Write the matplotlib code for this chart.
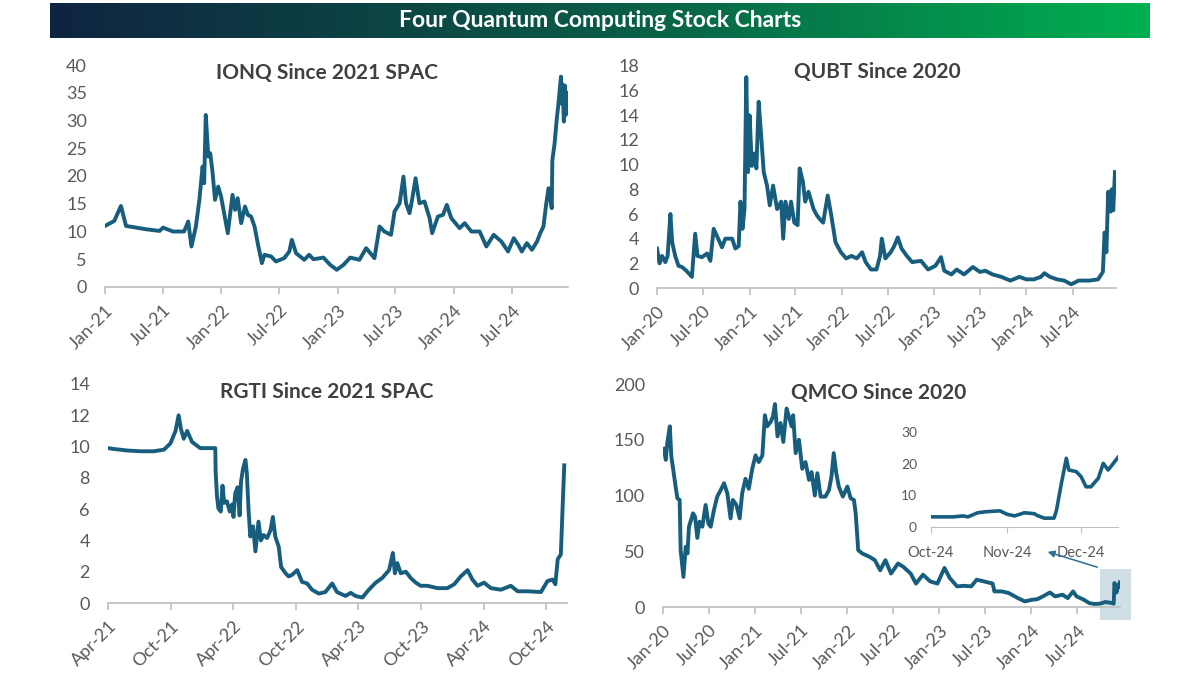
import numpy as np
import pandas as pd
import matplotlib
matplotlib.use("Agg")
from matplotlib import pyplot as plt
import matplotlib.dates as mdates
from matplotlib.colors import LinearSegmentedColormap
from matplotlib.patches import Rectangle, FancyArrowPatch

plt.rcParams['font.family'] = ['Lato', 'DejaVu Sans']

# ---- data ----
ionq_dates = ["2021-01-01", "2021-01-30", "2021-02-20", "2021-03-08", "2021-04-09", "2021-05-10",
              "2021-06-21", "2021-07-02", "2021-08-02", "2021-09-06", "2021-09-19", "2021-09-29",
              "2021-10-13", "2021-10-24", "2021-11-03", "2021-11-08", "2021-11-13", "2021-11-21",
              "2021-11-27", "2021-12-04", "2021-12-12", "2021-12-22", "2021-12-31", "2022-01-21",
              "2022-02-05", "2022-02-13", "2022-02-21", "2022-03-04", "2022-03-16", "2022-03-25",
              "2022-04-04", "2022-04-15", "2022-04-27", "2022-05-08", "2022-05-16", "2022-06-06",
              "2022-06-21", "2022-07-17", "2022-08-02", "2022-08-10", "2022-08-23", "2022-09-18",
              "2022-10-03", "2022-10-17", "2022-11-17", "2022-12-08", "2022-12-29", "2023-01-19",
              "2023-02-09", "2023-03-10", "2023-03-31", "2023-04-26", "2023-05-12", "2023-05-27",
              "2023-06-17", "2023-06-28", "2023-07-14", "2023-07-26", "2023-08-03", "2023-08-14",
              "2023-08-22", "2023-09-02", "2023-09-14", "2023-09-30", "2023-10-16", "2023-10-24",
              "2023-11-11", "2023-11-27", "2023-12-09", "2023-12-23", "2024-01-18", "2024-02-03",
              "2024-02-24", "2024-03-21", "2024-04-11", "2024-05-04", "2024-05-28", "2024-06-18",
              "2024-07-06", "2024-07-20", "2024-07-31", "2024-08-16", "2024-09-01", "2024-09-17",
              "2024-09-27", "2024-10-07", "2024-10-16", "2024-10-23", "2024-11-02", "2024-11-04",
              "2024-11-11", "2024-11-18", "2024-11-23", "2024-11-26", "2024-12-01", "2024-12-04",
              "2024-12-06", "2024-12-10", "2024-12-13", "2024-12-16", "2024-12-18"]
ionq_price = [11.0, 11.9, 14.6, 11.0, 10.7, 10.4, 10.1, 10.7, 10.0, 10.0, 11.8, 7.3,
              10.9, 15.7, 21.7, 18.7, 31.0, 23.5, 24.1, 20.8, 15.7, 18.1, 16.3, 9.7,
              16.6, 13.9, 16.0, 11.5, 14.5, 13.0, 12.7, 10.9, 7.3, 4.3, 5.8, 5.5,
              4.6, 5.2, 6.4, 8.5, 6.1, 4.9, 5.8, 5.0, 5.3, 4.0, 3.1, 4.0,
              5.3, 4.9, 7.0, 5.2, 10.9, 10.0, 9.4, 13.6, 15.1, 19.9, 15.1, 13.3,
              15.7, 19.6, 15.1, 15.4, 12.4, 9.7, 12.7, 13.0, 14.8, 12.4, 10.6, 11.5,
              10.0, 10.0, 7.3, 9.4, 8.2, 6.4, 8.8, 7.6, 6.4, 7.9, 6.7, 8.2,
              9.7, 10.9, 15.1, 17.8, 14.2, 22.9, 25.9, 30.4, 33.0, 34.9, 37.9, 33.0,
              36.5, 29.8, 36.3, 31.0, 35.0]

qubt_dates = ["2020-01-01", "2020-01-11", "2020-01-21", "2020-02-03", "2020-02-12", "2020-02-23",
              "2020-03-01", "2020-03-13", "2020-03-26", "2020-04-09", "2020-04-26", "2020-05-18",
              "2020-05-31", "2020-06-09", "2020-06-27", "2020-07-17", "2020-07-30", "2020-08-12",
              "2020-09-01", "2020-09-14", "2020-09-27", "2020-10-24", "2020-11-06", "2020-11-19",
              "2020-11-26", "2020-12-04", "2020-12-12", "2020-12-19", "2020-12-26", "2021-01-01",
              "2021-01-10", "2021-01-20", "2021-01-28", "2021-02-06", "2021-02-15", "2021-02-26",
              "2021-03-11", "2021-03-22", "2021-04-04", "2021-04-20", "2021-05-06", "2021-05-14",
              "2021-05-23", "2021-06-05", "2021-06-14", "2021-06-27", "2021-07-10", "2021-07-18",
              "2021-07-31", "2021-08-09", "2021-08-22", "2021-09-11", "2021-09-24", "2021-10-05",
              "2021-10-19", "2021-11-06", "2021-11-20", "2021-12-07", "2021-12-28", "2022-01-18",
              "2022-02-08", "2022-03-01", "2022-03-22", "2022-04-05", "2022-04-26", "2022-05-18",
              "2022-06-01", "2022-06-08", "2022-06-22", "2022-07-13", "2022-07-27", "2022-08-10",
              "2022-08-25", "2022-09-15", "2022-10-06", "2022-11-10", "2022-12-08", "2023-01-06",
              "2023-01-28", "2023-02-10", "2023-03-10", "2023-03-31", "2023-04-29", "2023-06-03",
              "2023-07-01", "2023-07-22", "2023-08-20", "2023-09-24", "2023-10-29", "2023-12-04",
              "2024-01-01", "2024-01-30", "2024-02-27", "2024-03-12", "2024-04-03", "2024-05-01",
              "2024-05-29", "2024-06-26", "2024-07-25", "2024-09-05", "2024-10-10", "2024-10-29",
              "2024-11-05", "2024-11-12", "2024-11-19", "2024-11-29", "2024-12-03", "2024-12-09",
              "2024-12-16"]
qubt_price = [3.2, 2.0, 2.6, 2.1, 2.6, 6.0, 3.7, 2.6, 1.8, 1.7, 1.4, 0.9,
              4.4, 2.6, 2.5, 2.8, 2.2, 4.8, 3.9, 3.3, 4.0, 4.0, 3.2, 3.4,
              7.0, 4.8, 6.4, 17.1, 9.4, 14.0, 9.9, 10.9, 9.7, 15.1, 12.6, 9.4,
              8.3, 6.7, 8.3, 6.4, 7.0, 4.0, 7.0, 5.6, 7.0, 5.3, 5.1, 9.7,
              8.6, 7.0, 7.8, 6.4, 5.9, 5.6, 5.3, 7.5, 5.9, 3.7, 2.9, 2.4,
              2.6, 2.4, 2.9, 2.1, 1.5, 1.5, 2.6, 4.0, 2.4, 2.9, 3.4, 4.1,
              3.2, 2.6, 2.1, 2.2, 1.5, 1.8, 2.5, 1.4, 1.1, 1.5, 1.1, 1.7,
              1.3, 1.4, 1.1, 0.9, 0.6, 0.9, 0.7, 0.7, 0.9, 1.2, 0.9, 0.7,
              0.6, 0.3, 0.6, 0.6, 0.7, 1.3, 4.5, 2.9, 7.8, 6.2, 8.0, 6.3,
              9.4]

rgti_dates = ["2021-04-01", "2021-04-17", "2021-05-26", "2021-07-04", "2021-08-12", "2021-09-11",
              "2021-09-30", "2021-10-15", "2021-10-24", "2021-10-31", "2021-11-08", "2021-11-18",
              "2021-12-02", "2021-12-26", "2022-02-08", "2022-02-09", "2022-02-13", "2022-02-17",
              "2022-02-24", "2022-03-01", "2022-03-06", "2022-03-14", "2022-03-22", "2022-03-29",
              "2022-04-02", "2022-04-07", "2022-04-14", "2022-04-20", "2022-04-24", "2022-04-30",
              "2022-05-07", "2022-05-11", "2022-05-16", "2022-05-21", "2022-05-29", "2022-06-05",
              "2022-06-14", "2022-06-21", "2022-06-29", "2022-07-09", "2022-07-19", "2022-07-26",
              "2022-08-02", "2022-08-12", "2022-08-19", "2022-09-01", "2022-09-10", "2022-09-20",
              "2022-10-05", "2022-10-19", "2022-11-03", "2022-11-17", "2022-12-07", "2022-12-26",
              "2023-01-15", "2023-01-29", "2023-02-23", "2023-03-10", "2023-03-24", "2023-04-13",
              "2023-05-02", "2023-05-22", "2023-06-10", "2023-06-30", "2023-07-11", "2023-07-17",
              "2023-07-24", "2023-08-03", "2023-08-18", "2023-09-01", "2023-09-16", "2023-09-30",
              "2023-10-20", "2023-11-18", "2023-12-17", "2024-01-06", "2024-01-25", "2024-02-14",
              "2024-02-28", "2024-03-14", "2024-04-02", "2024-04-22", "2024-05-21", "2024-06-19",
              "2024-07-09", "2024-08-07", "2024-09-15", "2024-10-04", "2024-10-19", "2024-10-27",
              "2024-11-03", "2024-11-12", "2024-11-17", "2024-11-22"]
rgti_price = [9.9, 9.85, 9.75, 9.7, 9.7, 9.8, 10.2, 11.0, 12.0, 11.1, 10.5, 11.0,
              10.3, 9.9, 9.9, 8.4, 6.8, 6.05, 5.85, 7.5, 6.4, 6.5, 5.85, 6.3,
              5.5, 7.0, 7.4, 5.6, 7.75, 8.6, 9.15, 8.3, 5.95, 4.25, 4.9, 3.3,
              5.2, 4.0, 4.35, 4.15, 4.65, 5.5, 4.25, 3.6, 2.3, 1.9, 1.7, 1.8,
              2.1, 1.35, 1.25, 0.85, 0.6, 0.7, 1.25, 0.7, 0.45, 0.65, 0.45, 0.35,
              0.85, 1.3, 1.6, 2.1, 3.2, 1.9, 2.55, 1.9, 2.0, 1.6, 1.3, 1.1,
              1.1, 0.95, 0.95, 1.2, 1.7, 2.1, 1.5, 1.1, 1.3, 0.95, 0.85, 1.1,
              0.75, 0.75, 0.7, 1.4, 1.5, 1.2, 2.8, 3.1, 6.0, 8.8]

qmco_dates = ["2020-01-05", "2020-01-12", "2020-01-18", "2020-01-28", "2020-02-03", "2020-02-10",
              "2020-02-20", "2020-02-27", "2020-03-07", "2020-03-11", "2020-03-22", "2020-03-31",
              "2020-04-07", "2020-04-13", "2020-04-29", "2020-05-07", "2020-05-16", "2020-05-25",
              "2020-06-05", "2020-06-18", "2020-06-29", "2020-07-08", "2020-07-21", "2020-08-03",
              "2020-08-17", "2020-08-30", "2020-09-12", "2020-09-25", "2020-10-04", "2020-10-18",
              "2020-10-31", "2020-11-10", "2020-11-23", "2020-12-06", "2020-12-20", "2021-01-02",
              "2021-01-15", "2021-01-29", "2021-02-08", "2021-02-17", "2021-03-03", "2021-03-12",
              "2021-03-20", "2021-03-30", "2021-04-11", "2021-04-22", "2021-05-05", "2021-05-14",
              "2021-05-25", "2021-05-31", "2021-06-10", "2021-06-23", "2021-07-06", "2021-07-19",
              "2021-08-02", "2021-08-12", "2021-08-25", "2021-09-04", "2021-09-17", "2021-10-06",
              "2021-10-20", "2021-10-30", "2021-11-08", "2021-11-18", "2021-11-28", "2021-12-14",
              "2022-01-01", "2022-01-14", "2022-01-27", "2022-02-03", "2022-02-13", "2022-03-01",
              "2022-03-30", "2022-04-20", "2022-05-11", "2022-06-01", "2022-06-23", "2022-07-21",
              "2022-08-11", "2022-09-09", "2022-09-30", "2022-10-28", "2022-11-25", "2022-12-24",
              "2023-01-21", "2023-02-11", "2023-03-12", "2023-04-09", "2023-05-07", "2023-05-29",
              "2023-06-26", "2023-07-31", "2023-08-07", "2023-09-05", "2023-10-03", "2023-11-08",
              "2023-12-06", "2024-01-03", "2024-01-24", "2024-02-15", "2024-03-14", "2024-04-04",
              "2024-05-03", "2024-05-24", "2024-06-14", "2024-06-28", "2024-07-27", "2024-08-17",
              "2024-09-07", "2024-09-29", "2024-10-20", "2024-11-17", "2024-11-22", "2024-11-25",
              "2024-11-29", "2024-12-03", "2024-12-10", "2024-12-12", "2024-12-16"]
qmco_price = [142, 132, 147, 162, 135, 124, 108, 97.5, 96, 51, 27, 54,
              48, 72, 84, 81, 62, 76.5, 72, 91.5, 75, 72, 87, 99,
              105, 111, 102, 79.5, 96, 91.5, 79.5, 102, 115, 106, 124, 136,
              130, 136, 172, 162, 166, 171, 182, 153, 165, 148, 178, 171,
              162, 172, 138, 150, 124, 130, 114, 121, 100, 120, 99, 99,
              105, 117, 138, 120, 108, 99, 108, 97.5, 96, 84, 51, 48,
              45, 42, 33, 42, 30, 39, 36, 30, 21, 29, 23, 21,
              35, 26, 18.5, 19, 18.5, 24.5, 23, 21, 14, 14, 12.5, 8,
              5, 6.5, 7, 9.5, 13, 9.5, 11, 8, 14, 9.5, 6.5, 3.5,
              2.7, 3.0, 4.5, 3.5, 3.0, 21.5, 17.5, 13, 20, 18, 22]

inset_dates = ["2024-10-01", "2024-10-10", "2024-10-14", "2024-10-16", "2024-10-20", "2024-10-23",
               "2024-10-29", "2024-11-01", "2024-11-04", "2024-11-08", "2024-11-12", "2024-11-13",
               "2024-11-16", "2024-11-20", "2024-11-21", "2024-11-23", "2024-11-25", "2024-11-26",
               "2024-11-29", "2024-12-01", "2024-12-03", "2024-12-05", "2024-12-08", "2024-12-10",
               "2024-12-12", "2024-12-13", "2024-12-16"]
inset_price = [3.2, 3.2, 3.5, 3.2, 4.5, 4.8, 5.1, 4.0, 3.5, 4.5, 4.2, 3.7,
               2.8, 2.8, 5.3, 13.8, 21.7, 18.0, 17.5, 15.9, 12.7, 12.7, 15.4, 20.1,
               18.0, 19.0, 22.0]

# ---- styling ----
W, H = 1200, 675
LINE = '#175e7e'
TXT = '#595959'
TITLE = '#404040'
AXIS = '#bfbfbf'


def box(l, r, t, b):
    # pixel box -> figure fraction [left, bottom, width, height]
    return [l / W, 1 - b / H, (r - l) / W, (b - t) / H]


fig = plt.figure(figsize=(12, 6.75), dpi=100)

# banner with gradient
bax = fig.add_axes(box(50, 1150, 3, 38))
cmap = LinearSegmentedColormap.from_list('banner', ['#0f2440', '#0a5a46', '#00b050'])
bax.imshow(np.linspace(0, 1, 256)[None, :], aspect='auto', cmap=cmap, extent=(0, 1, 0, 1))
bax.set_axis_off()
bax.text(0.5, 0.5, 'Four Quantum Computing Stock Charts', color='white', fontsize=16.5,
         fontweight='bold', ha='center', va='center', transform=bax.transAxes)


def panel(rect, dates, prices, ymax, ystep, months, xlim, title, title_xy):
    ax = fig.add_axes(rect)
    ax.plot(pd.to_datetime(dates), prices, color=LINE, lw=2.8, solid_joinstyle='round', zorder=3)
    ax.set_ylim(0, ymax)
    ax.set_yticks(np.arange(0, ymax + 0.1, ystep))
    ax.set_xlim(pd.Timestamp(xlim[0]), pd.Timestamp(xlim[1]))
    ax.xaxis.set_major_locator(mdates.MonthLocator(bymonth=months))
    ax.xaxis.set_major_formatter(mdates.DateFormatter('%b-%y'))
    for s in ['top', 'right', 'left']:
        ax.spines[s].set_visible(False)
    ax.spines['bottom'].set_color(AXIS)
    ax.spines['bottom'].set_linewidth(1.2)
    ax.tick_params(axis='y', length=0, pad=13, labelsize=13, labelcolor=TXT)
    ax.tick_params(axis='x', length=5, color=AXIS, width=1.2, pad=6, labelsize=13, labelcolor=TXT)
    plt.setp(ax.get_xticklabels(), rotation=45, ha='right', va='top', rotation_mode='anchor')
    ax.patch.set_alpha(0)
    fig.text(title_xy[0] / W, 1 - title_xy[1] / H, title, fontsize=15, fontweight='bold',
             color=TITLE, ha='center', va='center')
    return ax


ax1 = panel(box(105, 568, 65, 287), ionq_dates, ionq_price, 40, 5, (1, 7),
            ('2021-01-01', '2024-12-23'), 'IONQ Since 2021 SPAC', (327, 73))
ax2 = panel(box(657, 1116, 66, 288), qubt_dates, qubt_price, 18, 2, (1, 7),
            ('2020-01-01', '2024-12-20'), 'QUBT Since 2020', (877, 72))
ax3 = panel(box(108, 567, 384, 603), rgti_dates, rgti_price, 14, 2, (4, 10),
            ('2021-04-01', '2024-11-30'), 'RGTI Since 2021 SPAC', (327, 392))
ax4 = panel(box(663, 1120, 384, 607), qmco_dates, qmco_price, 200, 50, (1, 7),
            ('2020-01-01', '2024-12-17'), 'QMCO Since 2020', (879, 393))

# highlight box on the recent QMCO move (behind the line)
fig.add_artist(Rectangle((1100 / W, 1 - 620 / H), 31 / W, 51 / H, transform=fig.transFigure,
                         facecolor='#d0dfe6', edgecolor='none', zorder=-1))

# inset with the last few months of QMCO
ins = fig.add_axes(box(931, 1118, 432, 527))
ins.plot(pd.to_datetime(inset_dates), inset_price, color=LINE, lw=2.6, solid_joinstyle='round')
ins.set_ylim(0, 30)
ins.set_yticks([0, 10, 20, 30])
ins.set_xlim(pd.Timestamp('2024-10-01'), pd.Timestamp('2024-12-16'))
ins.xaxis.set_major_locator(mdates.MonthLocator())
ins.xaxis.set_major_formatter(mdates.DateFormatter('%b-%y'))
for s in ['top', 'right', 'left']:
    ins.spines[s].set_visible(False)
ins.spines['bottom'].set_color(AXIS)
ins.tick_params(axis='y', length=0, pad=10, labelsize=10, labelcolor=TXT)
ins.tick_params(axis='x', length=4, color=AXIS, pad=10, labelsize=10.5, labelcolor=TXT)
ins.patch.set_alpha(0)

arrow = FancyArrowPatch((1100 / W, 1 - 568 / H), (1045 / W, 1 - 551 / H),
                        transform=fig.transFigure, arrowstyle='-|>', mutation_scale=10,
                        color='#2e7091', lw=1.1)
fig.add_artist(arrow)

fig.savefig('out.png', dpi=100, facecolor='white')
